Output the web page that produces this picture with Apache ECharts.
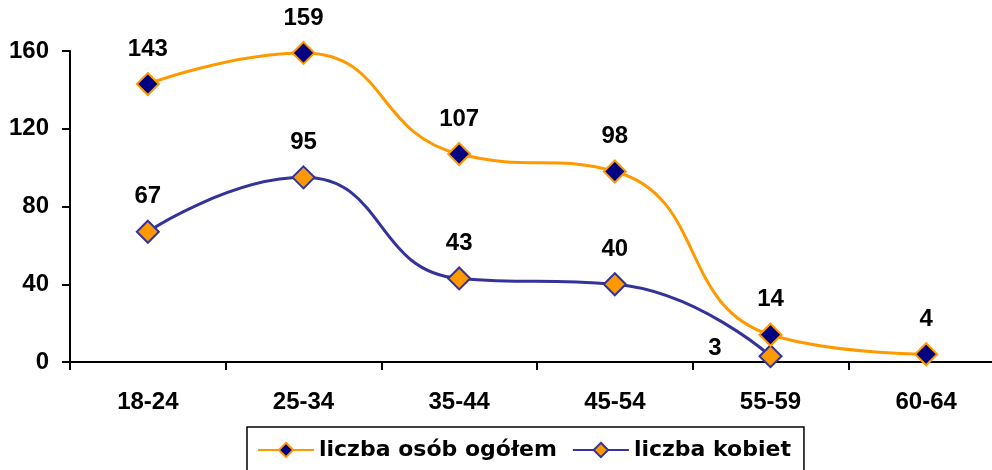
<!DOCTYPE html>
<html>
    <head>
        <meta charset="UTF-8" />
        <script src="https://cdn.jsdelivr.net/npm/echarts@6/dist/echarts.min.js"></script>
        <style>
            html, body { margin: 0; padding: 0; background: #fff; }
        </style>
    </head>

    <body>
        <div id="main" style="width: 992px; height: 470px"></div>
        <script type="text/javascript">
            var categories = ['18-24', '25-34', '35-44', '45-54', '55-59', '60-64'];
            var ogolem = [143, 159, 107, 98, 14, 4];
            var kobiet = [67, 95, 43, 40, 3];
            var yTicks = [0, 40, 80, 120, 160];

            var font = '"Liberation Sans", Arial, sans-serif';

            var chartDom = document.getElementById("main");
            var myChart = echarts.init(chartDom);

            var labelStyle = {
                show: true,
                position: 'top',
                distance: 11,
                color: '#000',
                fontFamily: font,
                fontWeight: 'bold',
                fontSize: 24
            };

            var option = {
                animation: false,
                grid: {
                    left: 70,
                    top: 51,
                    width: 934,
                    height: 311,
                    outerBoundsMode: 'none'
                },
                legend: {
                    left: 247,
                    top: 427,
                    padding: [12, 13, 18, 10],
                    borderColor: '#000',
                    borderWidth: 1.5,
                    itemWidth: 56,
                    itemHeight: 18,
                    itemGap: 15,
                    textStyle: {
                        fontFamily: '"DejaVu Sans", sans-serif',
                        fontWeight: 'bold',
                        fontSize: 22,
                        color: '#000'
                    },
                    data: ['liczba osób ogółem', 'liczba kobiet']
                },
                xAxis: {
                    type: 'category',
                    data: categories,
                    axisLine: { lineStyle: { color: '#000', width: 2 } },
                    axisTick: { show: true, length: 8, lineStyle: { color: '#000', width: 2 } },
                    axisLabel: {
                        margin: 28,
                        color: '#000',
                        fontFamily: font,
                        fontWeight: 'bold',
                        fontSize: 24
                    }
                },
                yAxis: {
                    type: 'value',
                    min: yTicks[0],
                    max: yTicks[yTicks.length - 1],
                    interval: 40,
                    splitLine: { show: false },
                    axisLine: { show: true, lineStyle: { color: '#000', width: 2 } },
                    axisTick: { show: true, length: 8, lineStyle: { color: '#000', width: 2 } },
                    axisLabel: {
                        margin: 21,
                        color: '#000',
                        fontFamily: font,
                        fontWeight: 'bold',
                        fontSize: 24
                    }
                },
                series: [
                    {
                        name: 'liczba osób ogółem',
                        type: 'line',
                        smooth: 0.5,
                        data: ogolem,
                        symbol: 'diamond',
                        symbolSize: 22,
                        lineStyle: { color: '#FF9900', width: 3 },
                        itemStyle: { color: '#000080', borderColor: '#FF9900', borderWidth: 2 },
                        label: labelStyle,
                        z: 3
                    },
                    {
                        name: 'liczba kobiet',
                        type: 'line',
                        smooth: 0.5,
                        data: kobiet.map(function (v, i) {
                            if (i === kobiet.length - 1) {
                                return { value: v, label: { position: 'left', distance: 37, offset: [0, -8] } };
                            }
                            return v;
                        }),
                        symbol: 'diamond',
                        symbolSize: 22,
                        lineStyle: { color: '#333399', width: 3 },
                        itemStyle: { color: '#FF9900', borderColor: '#333399', borderWidth: 2 },
                        label: labelStyle,
                        z: 2
                    }
                ]
            };

            option && myChart.setOption(option);
        </script>
    </body>
</html>
